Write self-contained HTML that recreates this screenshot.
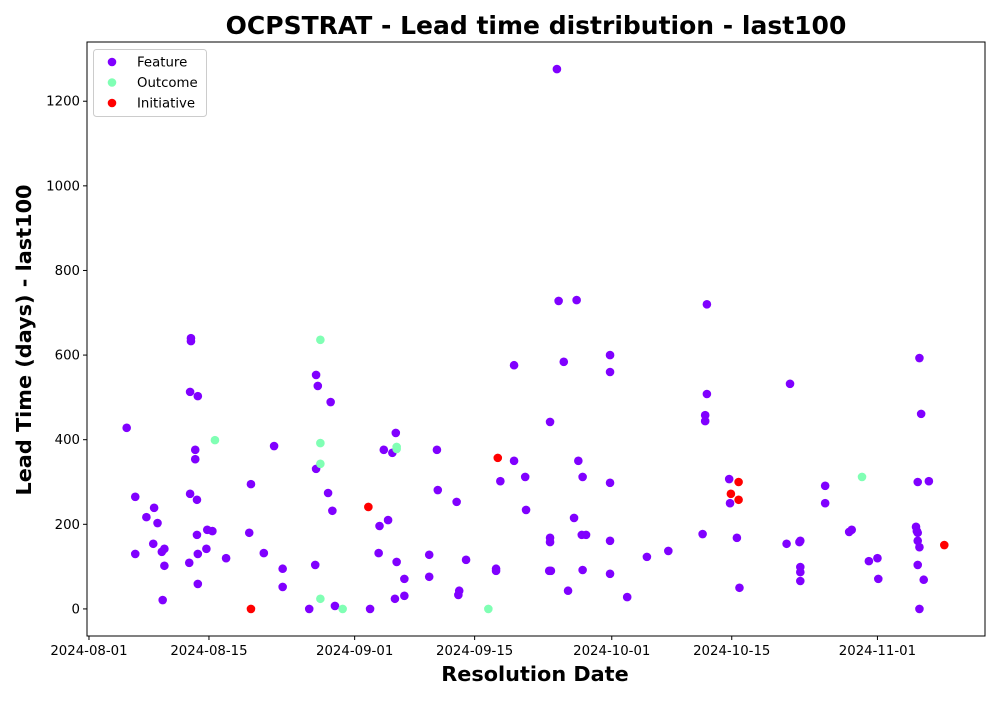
<!DOCTYPE html>
<html><head><meta charset="utf-8"><style>
body{margin:0;background:#fff;font-family:"DejaVu Sans",sans-serif}
svg text{font-family:"DejaVu Sans","Liberation Sans",sans-serif}
</style></head><body>
<svg id="c" width="1000" height="700" xmlns="http://www.w3.org/2000/svg"></svg>
<script>
// day offsets from 2024-08-01, lead time in days
const featureDays=[4.4,5.4,5.4,6.7,7.5,7.6,8.0,8.5,8.8,8.8,8.6,11.7,11.8,11.8,11.9,11.9,12.4,12.4,12.6,12.7,12.6,12.7,12.7,13.7,13.8,14.4,16.0,18.7,18.9,20.4,21.6,22.6,22.6,25.7,26.4,26.5,26.5,26.7,27.9,28.2,28.4,28.7,32.8,33.8,33.9,34.4,34.9,35.4,35.8,35.9,35.7,36.8,36.8,39.7,39.7,40.6,40.7,42.9,43.1,43.2,44.0,47.5,47.5,48.0,49.6,49.6,50.9,51.0,53.8,53.8,53.8,53.7,53.9,54.6,54.8,55.4,55.9,56.6,56.9,57.1,57.6,57.5,58.0,57.6,60.8,60.8,60.8,60.8,60.8,62.8,65.1,67.6,71.6,72.1,72.1,71.9,71.9,74.7,74.8,75.6,75.9,81.4,81.8,83.0,82.9,83.0,83.0,83.0,85.9,85.9,88.7,89.0,91.0,92.0,92.1,96.5,96.6,96.7,96.7,96.9,96.7,96.9,96.7,96.9,97.1,97.4,98.0];
const featureVals=[428,265,130,217,154,239,203,135,142,102,21,109,272,513,640,633,376,354,175,130,258,503,59,142,187,184,120,180,295,132,385,95,52,0,104,331,553,527,274,489,232,7,0,132,196,376,210,369,416,111,24,71,31,128,76,376,281,253,33,43,116,95,90,302,576,350,312,234,442,168,158,90,90,1276,728,584,43,215,730,350,312,175,175,92,600,560,298,161,83,28,123,137,177,720,508,458,444,307,250,168,50,154,532,161,158,99,87,66,291,250,182,187,113,120,71,194,184,180,300,593,161,146,104,0,461,69,302];
const outcomeDays=[14.7,27.0,27.0,27.0,27.0,29.6,35.9,35.9,46.6,90.2];
const outcomeVals=[399,636,392,343,24,0,383,378,0,312];
const initDays=[18.9,32.6,47.7,74.9,75.8,75.8,99.8];
const initVals=[0,241,357,272,300,258,151];
const yTicks=[0,200,400,600,800,1000,1200];
const xTickDays=[0,14,31,45,61,75,92];
const xTickLabels=["2024-08-01","2024-08-15","2024-09-01","2024-09-15","2024-10-01","2024-10-15","2024-11-01"];

const L=87,R=985,T=42,B=636;
const dMin=-0.23,dMax=104.55,vMin=-64,vMax=1340;
const X=d=>L+(d-dMin)/(dMax-dMin)*(R-L);
const Y=v=>B-(v-vMin)/(vMax-vMin)*(B-T);
const svg=document.getElementById('c');const NS='http://www.w3.org/2000/svg';
function mk(t,a,p){const e=document.createElementNS(NS,t);for(const k in a)e.setAttribute(k,a[k]);(p||svg).appendChild(e);return e;}

const title=mk('text',{x:536,y:34,'text-anchor':'middle','font-size':25,'font-weight':'bold'});
title.textContent='OCPSTRAT - Lead time distribution - last100';



const gy=mk('g',{});


yTicks.forEach(v=>{const y=Y(v);
 mk('line',{x1:L-4,x2:L,y1:y,y2:y,stroke:'#000'},gy);
 const t=mk('text',{x:L-7,y:y+4.5,'text-anchor':'end','font-size':13.3},gy);t.textContent=v;
 
 });
const gx=mk('g',{});


xTickDays.forEach((d,i)=>{const x=X(d);
 mk('line',{x1:x,x2:x,y1:B,y2:B+4,stroke:'#000'},gx);
 const t=mk('text',{x:x,y:B+19,'text-anchor':'middle','font-size':13.3},gx);t.textContent=xTickLabels[i];
 
 });

const yl=mk('text',{transform:'translate(31,340) rotate(-90)','text-anchor':'middle','font-size':20.8,'font-weight':'bold'});
yl.textContent='Lead Time (days) - last100';


const xl=mk('text',{x:535,y:681,'text-anchor':'middle','font-size':20.8,'font-weight':'bold'});
xl.textContent='Resolution Date';



function series(days,vals,color,name){const g=mk('g',{fill:color});
 
 
 days.forEach((d,i)=>{const c=mk('circle',{cx:X(d),cy:Y(vals[i]),r:4.3},g);
  
  });}
series(featureDays,featureVals,'#8000ff','feature');
series(outcomeDays,outcomeVals,'#80ffb4','outcome');
series(initDays,initVals,'#ff0000','initiative');

mk('rect',{x:L,y:T,width:R-L,height:B-T,fill:'none',stroke:'#000','stroke-width':1});

const lg=mk('g',{});


mk('rect',{x:93.5,y:49.5,width:113,height:67,rx:3,fill:'#fff',stroke:'#ccc'},lg);
[['Feature','#8000ff'],['Outcome','#80ffb4'],['Initiative','#ff0000']].forEach((e,i)=>{
 const y=62+i*20.5;
 mk('circle',{cx:112,cy:y,r:4.3,fill:e[1]},lg);
 const t=mk('text',{x:137,y:y+4.5,'font-size':13.3},lg);t.textContent=e[0];
 
 });
</script>
</body></html>
